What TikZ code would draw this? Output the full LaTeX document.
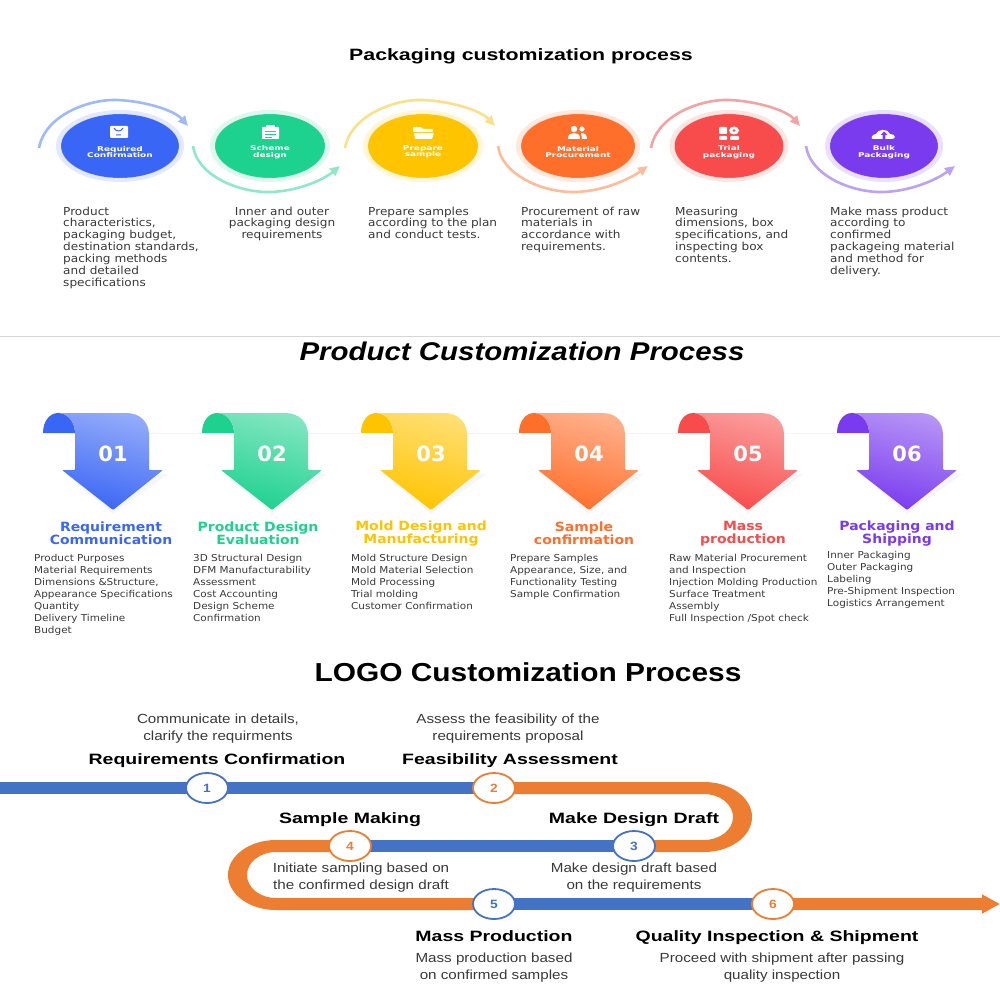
\documentclass[tikz,border=0pt]{standalone}
\usepackage{fontspec}
\setmainfont{DejaVu Sans}
\newfontfamily\dejaw[FakeStretch=1.1]{DejaVu Sans}
\newfontfamily\dejawide[FakeStretch=1.38]{DejaVu Sans}
\newfontfamily\lib[FakeStretch=1.15]{Liberation Sans}
\newfontfamily\libw[FakeStretch=1.3]{Liberation Sans}
\usetikzlibrary{arrows.meta,shapes.geometric,backgrounds}
\definecolor{cA}{HTML}{3A66F5}\definecolor{cAl}{HTML}{9FBAF8}\definecolor{cAh}{HTML}{E3E9FB}
\definecolor{cB}{HTML}{1DD18F}\definecolor{cBl}{HTML}{8FE8C8}\definecolor{cBh}{HTML}{DFF7EE}
\definecolor{cC}{HTML}{FFC400}\definecolor{cCl}{HTML}{FBE08A}\definecolor{cCh}{HTML}{FFF6D8}
\definecolor{cD}{HTML}{FF6F2C}\definecolor{cDl}{HTML}{FFBC98}\definecolor{cDh}{HTML}{FFE9DE}
\definecolor{cE}{HTML}{F84B4B}\definecolor{cEl}{HTML}{F3A3A3}\definecolor{cEh}{HTML}{F9E6E2}
\definecolor{cF}{HTML}{7A3BEF}\definecolor{cFl}{HTML}{BDA2F3}\definecolor{cFh}{HTML}{E9E0FB}
\definecolor{lblue}{HTML}{4472C4}\definecolor{lorange}{HTML}{ED7D31}
\definecolor{body}{HTML}{3A3A3A}
\tikzset{
 disc/.style={ellipse,inner sep=0pt,minimum width=#1,minimum height=64pt},
 disclabel/.style={text=white,font=\dejawide\fontsize{6.5}{6.5}\selectfont\bfseries,align=center,inner sep=0pt},
 desc/.style={anchor=north west,inner sep=0pt,align=left,text=body,font=\dejaw\fontsize{11}{11.85}\selectfont},
 descc/.style={anchor=north,inner sep=0pt,align=center,text=body,font=\dejaw\fontsize{11}{11.85}\selectfont},
 head/.style={inner sep=0pt,align=center,font=\dejaw\fontsize{12.7}{13}\selectfont\bfseries},
 items/.style={anchor=north west,inner sep=0pt,align=left,text=body,font=\dejaw\fontsize{9.5}{12}\selectfont},
 num/.style={ellipse,draw=#1,line width=1.8pt,fill=white,text=#1,inner sep=0pt,minimum width=42pt,minimum height=30pt,font=\lib\fontsize{12}{12}\selectfont\bfseries},
 stage/.style={inner sep=0pt,align=center,font=\libw\fontsize{15}{15}\selectfont\bfseries},
 note/.style={inner sep=0pt,align=center,text=body,font=\lib\fontsize{13.2}{17}\selectfont},
 bar/.style={line width=12pt,#1},
 ring/.style={line width=2.6pt,#1,-{Triangle[length=10pt,width=9pt]}},
}
\newcommand{\ribbon}[3]{%
 \begin{scope}[xshift=#1pt]
 \fill[black!6,opacity=.6] (75,474) -- (66,474) -- (113,514) -- (168,474) -- (150,474) -- cycle;
 \shade[top color=#3!55!white,bottom color=#3,shading angle=-15,rounded corners=1pt]
   (58,413) -- (125,413) .. controls (141,413) and (149,423) .. (149,436) -- (149,470) -- (163,470) -- (113,510) -- (62,470) -- (75,470) -- (75,433) .. controls (75,423) and (68,413) .. (58,413) -- cycle;
 \fill[#3] (43,433) .. controls (43,421) and (50,413) .. (58,413) .. controls (68,413) and (75,423) .. (75,433) -- cycle;
 \node[text=white,inner sep=0pt,font=\fontsize{21}{21}\selectfont\bfseries] (r#2) at (113,454) {#2};
 \end{scope}}
\begin{document}
\begin{tikzpicture}[x=1pt,y=-1pt]
\useasboundingbox (0,0) rectangle (1000,1000);
\begin{scope}[on background layer]
\fill[white] (0,0) rectangle (1000,1000);
\end{scope}
% ---------- top section
\node[inner sep=0pt,font=\libw\fontsize{16.4}{16.4}\selectfont\bfseries] (t1) at (521,56) {Packaging customization process};
\foreach \n/\cx/\rx/\c in {a/120/118/cA,b/270/110/cB,c/423/110/cC,d/578/114/cD,e/729/109/cE,f/884/108/cF}{
  \node[disc=\rx pt+10pt,minimum height=72pt,fill=\c h] (h\n) at (\cx,146) {};
  \node[disc=\rx pt,fill=\c,draw=white,draw opacity=.25,line width=.5pt] (\n) at (\cx,146) {};
}
\foreach \n/\sx/\ex/\c in {a/39/188/cA,c/345/495/cC,e/651/800/cE}{
 \coordinate (s\n) at (\sx,148); \coordinate (t\n) at (\ex,126);
 \draw[ring=\c l] (s\n) .. controls (\sx+6,115) and (\sx+50,99) .. (\sx+78,100) .. controls (\sx+105,101) and (\sx+135,110) .. (t\n);
}
\foreach \n/\sx/\ex/\c in {b/193/340/cB,d/498/648/cD,f/806/955/cF}{
 \coordinate (s\n) at (\sx,146); \coordinate (t\n) at (\ex,166);
 \draw[ring=\c l] (s\n) .. controls (\sx+4,175) and (\sx+45,193) .. (\sx+78,192) .. controls (\sx+105,191) and (\sx+130,180) .. (t\n);
}
\node[disclabel] (la) at (120,152) {Required\\Confirmation};
\node[disclabel] (lb) at (270,152) {Scheme\\design};
\node[disclabel] (lc) at (423,152) {Prepare\\sample};
\node[disclabel] (ld) at (578,152) {Material\\Procurement};
\node[disclabel] (le) at (729,152) {Trial\\packaging};
\node[disclabel] (lf) at (884,152) {Bulk\\Packaging};
% icons
\fill[white,rounded corners=1pt] (110,126) rectangle (128,138);
\draw[cA,line width=1pt] (114,128) .. controls (116,132) and (121,132) .. (123,128) (116,135) -- (121,135);
\fill[white,rounded corners=.6pt] (262,127) rectangle (279,139);
\fill[white] (266,125) rectangle (275,128);
\draw[cB,line width=.7pt] (265,131) -- (276,131) (265,134) -- (276,134) (265,137) -- (272,137);
\fill[white,rounded corners=.8pt] (413,127) -- (421,127) -- (423,129) -- (433,129) -- (433,132) -- (413,132) -- cycle;
\fill[white,rounded corners=.8pt] (414,133) -- (434,133) -- (432,139) -- (415,139) -- cycle;
\fill[white] (574,129) circle[radius=3.2pt] (568,139) .. controls (568,134) and (571,133) .. (574,133) .. controls (577,133) and (580,134) .. (580,139) -- cycle;
\fill[white] (582,129) circle[radius=2.6pt] (581,133) .. controls (585,133) and (587,135) .. (587,139) -- (582,139) -- cycle;
\fill[white,rounded corners=1pt] (719,127) rectangle (727,134) (719,136) rectangle (727,140) (730,136) rectangle (739,140);
\fill[white] (734,130.5) ellipse[x radius=5pt,y radius=4pt];
\fill[cE] (734,130.5) ellipse[x radius=1.5pt,y radius=1.3pt];
\fill[white] (873,139) .. controls (870,139) and (872,134) .. (876,134) .. controls (877,129) and (888,128) .. (890,134) .. controls (896,134) and (896,139) .. (892,139) -- cycle;
\fill[cF] (884,131.5) -- (887.5,135) -- (885.3,135) -- (885.3,139) -- (882.7,139) -- (882.7,135) -- (880.5,135) -- cycle;
% descriptions
\node[desc] (da) at (63,206.5) {Product\\characteristics,\\packaging budget,\\destination standards,\\packing methods\\and detailed\\specifications};
\node[descc] (db) at (282,206.5) {Inner and outer\\packaging design\\requirements};
\node[desc] (dc) at (368,206.5) {Prepare samples\\according to the plan\\and conduct tests.};
\node[desc] (dd) at (521,206.5) {Procurement of raw\\materials in\\accordance with\\requirements.};
\node[desc] (de) at (675,206.5) {Measuring\\dimensions, box\\specifications, and\\inspecting box\\contents.};
\node[desc] (df) at (830,206.5) {Make mass product\\according to\\confirmed\\packageing material\\and method for\\delivery.};
% divider
\draw[black!16,line width=1pt] (0,336) -- (1000,336);
% ---------- middle section
\node[inner sep=0pt,font=\lib\fontsize{25.6}{25.6}\selectfont\bfseries\itshape] (t2) at (522,351) {Product Customization Process};
\draw[black!5,line width=1pt] (149,433) -- (202,433) (308,433) -- (361,433) (467,433) -- (519,433) (626,433) -- (678,433) (785,433) -- (837,433);
\ribbon{0}{01}{cA}
\ribbon{159}{02}{cB}
\ribbon{318}{03}{cC}
\ribbon{476}{04}{cD}
\ribbon{635}{05}{cE}
\ribbon{794}{06}{cF}
\node[head,text=cA] (ha) at (111,533.5) {Requirement\\Communication};
\node[head,text=cB] (hb) at (258,533.5) {Product Design\\Evaluation};
\node[head,text=cC] (hc) at (421,533.5) {Mold Design and\\Manufacturing};
\node[head,text=cD] (hd) at (584,533.5) {Sample\\confirmation};
\node[head,text=cE] (he) at (743,533.5) {Mass\\production};
\node[head,text=cF] (hf) at (897,533.5) {Packaging and\\Shipping};
\node[items] (ia) at (34,554) {Product Purposes\\Material Requirements\\Dimensions \&Structure,\\Appearance Specifications\\Quantity\\Delivery Timeline\\Budget};
\node[items] (ib) at (193,554) {3D Structural Design\\DFM Manufacturability\\Assessment\\Cost Accounting\\Design Scheme\\Confirmation};
\node[items] (ic) at (351,554) {Mold Structure Design\\Mold Material Selection\\Mold Processing\\Trial molding\\Customer Confirmation};
\node[items] (id) at (510,554) {Prepare Samples\\Appearance, Size, and\\Functionality Testing\\Sample Confirmation};
\node[items] (ie) at (669,554) {Raw Material Procurement\\and Inspection\\Injection Molding Production\\Surface Treatment\\Assembly\\Full Inspection /Spot check};
\node[items] (if) at (827,551) {Inner Packaging\\Outer Packaging\\Labeling\\Pre-Shipment Inspection\\Logistics Arrangement};
% ---------- bottom section
\node[inner sep=0pt,font=\lib\fontsize{26}{26}\selectfont\bfseries] (t3) at (528,672) {LOGO Customization Process};
\node[num=lblue] (n1) at (207,788) {1};
\node[num=lorange] (n2) at (494,788) {2};
\node[num=lblue] (n3) at (634,846) {3};
\node[num=lorange] (n4) at (350,846) {4};
\node[num=lblue] (n5) at (494,904) {5};
\node[num=lorange] (n6) at (773,904) {6};
\coordinate (start) at (0,788);
\coordinate (finish) at (1000,904);
\begin{scope}[on background layer]
\draw[bar=lblue] (start) -- (n2.center);
\draw[bar=lblue] (n3.center) -- (n4.center);
\draw[bar=lblue] (n5.center) -- (n6.center);
\fill[lorange] (n2.center |- 0,782) -- (704,782) arc[start angle=90,end angle=-90,x radius=48pt,y radius=35pt] -- (n3.center |- 0,852) -- (n3.center |- 0,840) -- (704,840) arc[start angle=-90,end angle=90,x radius=29pt,y radius=23pt] -- (n2.center |- 0,794) -- cycle;
\fill[lorange] (n4.center |- 0,840) -- (276,840) arc[start angle=90,end angle=270,x radius=48pt,y radius=35pt] -- (n5.center |- 0,910) -- (n5.center |- 0,898) -- (276,898) arc[start angle=270,end angle=90,x radius=29pt,y radius=23pt] -- (n4.center |- 0,852) -- cycle;
\draw[bar=lorange,-{Triangle[length=18pt,width=18pt]}] (n6.center) -- (finish);
\end{scope}
\node[note] (na) at (218,728.5) {Communicate in details,\\clarify the requirments};
\node[note] (nb) at (508,728.5) {Assess the feasibility of the\\requirements proposal};
\node[stage] (sa) at (217,761) {Requirements Confirmation};
\node[stage] (sb) at (510,761) {Feasibility Assessment};
\node[stage] (sd) at (350,820) {Sample Making};
\node[stage] (sc) at (634,820) {Make Design Draft};
\node[note] (nd) at (361,878) {Initiate sampling based on\\the confirmed design draft};
\node[note] (nc) at (634,878) {Make design draft based\\on the requirements};
\node[stage] (se) at (494,936) {Mass Production};
\node[stage] (sf) at (777,938) {Quality Inspection \& Shipment};
\node[note] (ne) at (494,968) {Mass production based\\on confirmed samples};
\node[note] (nf) at (782,968) {Proceed with shipment after passing\\quality inspection};
\end{tikzpicture}
\end{document}
